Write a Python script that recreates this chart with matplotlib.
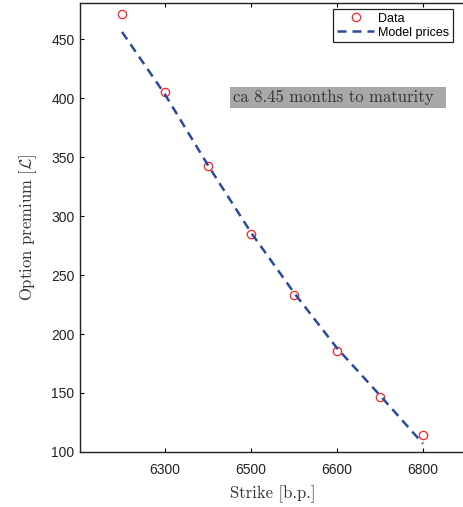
import numpy as np
import matplotlib
matplotlib.use("Agg")
import matplotlib.pyplot as plt
from matplotlib.patches import Rectangle

# strikes are evenly spaced; the reference labels only every second one
strike_pos = np.arange(8)
tick_pos = [1, 3, 5, 7]
tick_labels = ['6300', '6500', '6600', '6800']

premium_data = [471, 405, 342, 285, 233, 186, 147, 114]
premium_model = [456, 403, 343, 286, 235, 188, 148, 107]

maturity_text = 'ca 8.45 months to maturity'

plt.rcParams['mathtext.fontset'] = 'cm'
serif = ['cmr10', 'DejaVu Serif']
sans = ['Liberation Sans', 'DejaVu Sans']

fig = plt.figure(figsize=(4.63, 5.07), dpi=100)
ax = fig.add_axes([0.1728, 0.1085, 0.8337, 0.8855])

ax.plot(strike_pos, premium_data, 'o', mfc='none', mec='#ff2020', ms=6,
        mew=0.9, label='Data')
ax.plot(strike_pos, premium_model, '--', color='#2a4aa0', lw=1.8,
        dashes=(3.6, 2.4), label='Model prices')

ax.set_xlim(-0.977, 8.0)
ax.set_ylim(100, 480.5)
ax.set_xticks(tick_pos)
ax.set_xticklabels(tick_labels)
ax.set_yticks(np.arange(100, 451, 50))

ax.tick_params(direction='in', length=3, width=0.8, top=True, right=False,
               labelsize=10)
ax.tick_params(axis='x', pad=8)
ax.tick_params(axis='y', pad=4)
for lab in ax.get_xticklabels() + ax.get_yticklabels():
    lab.set_family(sans)
    lab.set_color('#222222')
for sp in ax.spines.values():
    sp.set_linewidth(1.0)
    sp.set_color('#222222')
ax.spines['right'].set_visible(False)

ax.set_xlabel('Strike [b.p.]', family=serif, fontsize=12, color='#333333',
              labelpad=6)
ax.set_ylabel(r'Option premium [$\mathcal{L}$]', family=serif, fontsize=12,
              color='#333333', labelpad=9)

ax.add_patch(Rectangle((0.3886, 0.766), 0.5594, 0.047, transform=ax.transAxes,
                       facecolor='#a6a8aa', edgecolor='none', zorder=1))
ax.text(0.396, 0.7895, maturity_text, transform=ax.transAxes, family=serif,
        fontsize=12, color='#333333', va='center', ha='left', zorder=2)

leg = ax.legend(loc='upper right', bbox_to_anchor=(0.966, 0.9866),
                prop={'family': sans, 'size': 9}, fancybox=False,
                framealpha=1, edgecolor='#222222', borderpad=0.3,
                handlelength=3.0, handletextpad=0.3, labelspacing=0.15,
                borderaxespad=0)
leg.get_frame().set_linewidth(0.9)

fig.savefig('out.png', dpi=100)
